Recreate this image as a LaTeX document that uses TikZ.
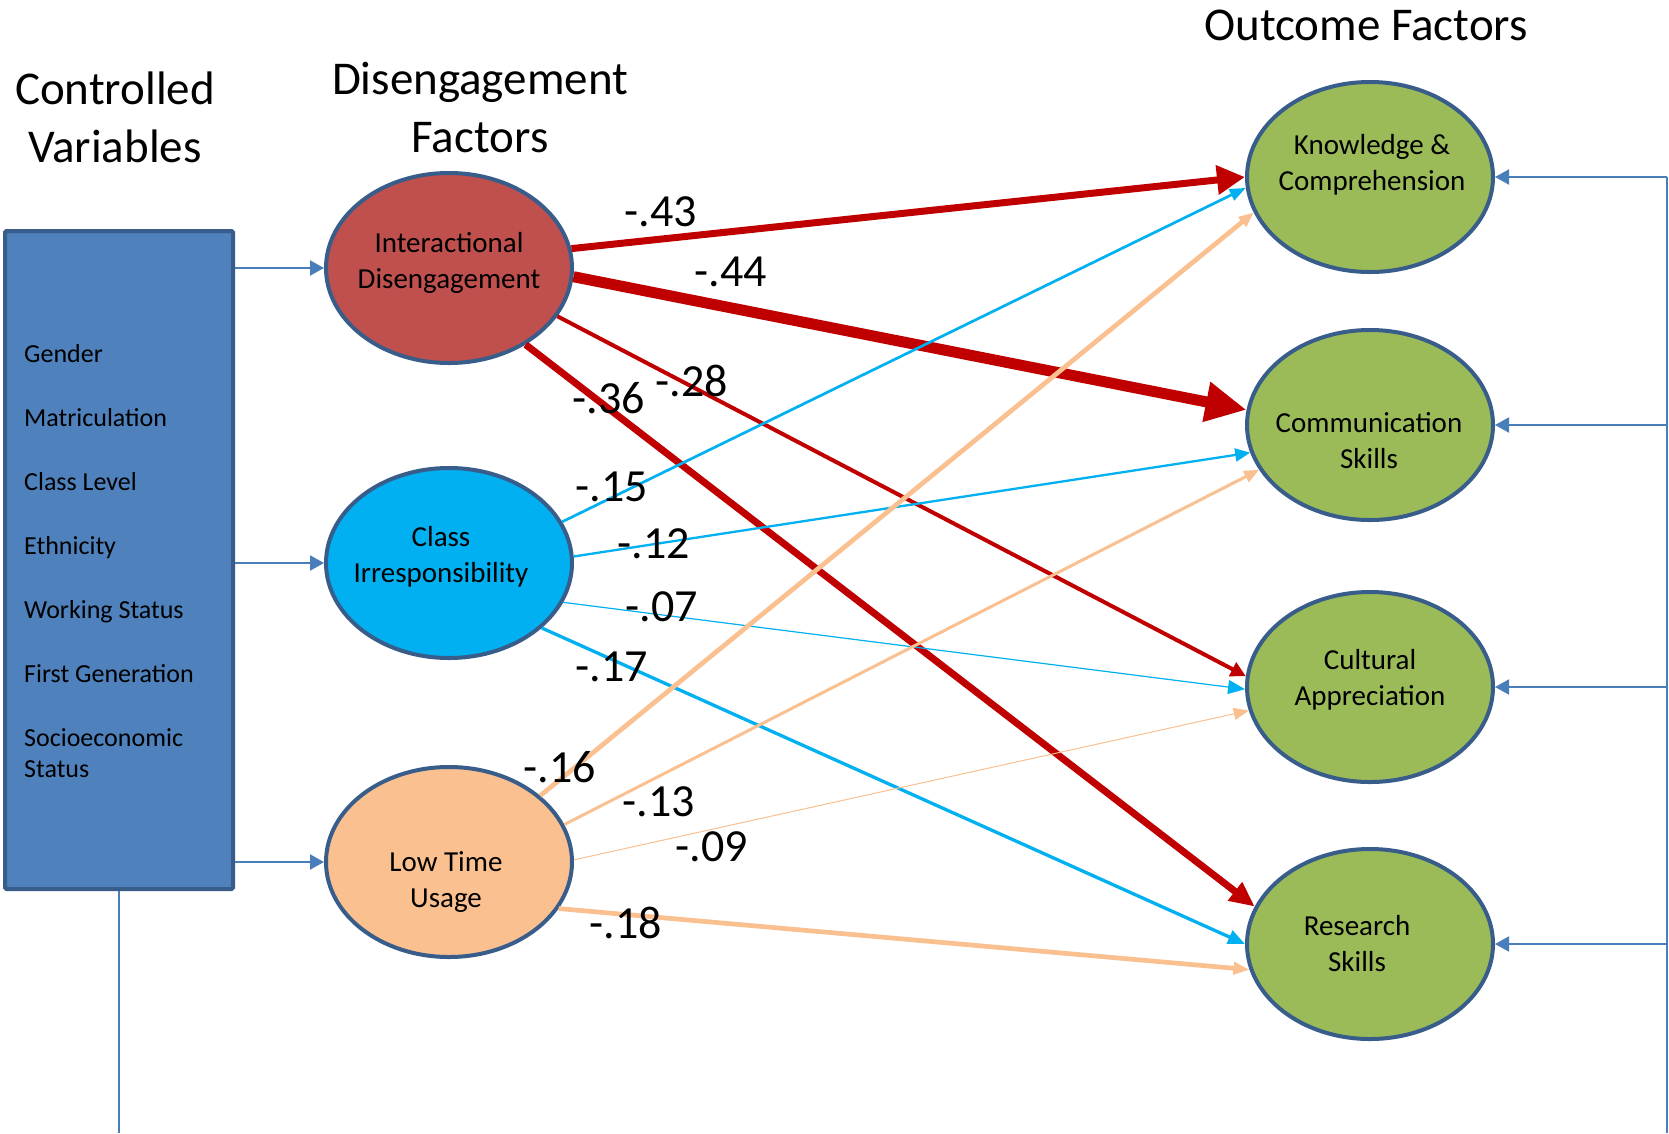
\documentclass[tikz,border=0pt]{standalone}
\usepackage{fontspec}
\setmainfont{Carlito}
\usetikzlibrary{arrows.meta,shapes.geometric}
\definecolor{boxblue}{HTML}{4F81BD}
\definecolor{edgeblue}{HTML}{385D8A}
\definecolor{linkblue}{HTML}{4A7EBB}
\definecolor{idred}{HTML}{C0504D}
\definecolor{cicyan}{HTML}{00B0F0}
\definecolor{ltpeach}{HTML}{FAC090}
\definecolor{outgreen}{HTML}{9BBB59}
\definecolor{pathred}{HTML}{C00000}
\newcommand\fsz[2]{\fontsize{#1}{#2}\selectfont}
\begin{document}
\begin{tikzpicture}[x=1pt,y=-1pt,
  factor/.style={ellipse, draw=edgeblue, line width=4pt, minimum width=246pt, minimum height=190pt, inner sep=0pt},
  inlabel/.style={align=center, font=\fsz{29}{36}, inner sep=0pt},
  heading/.style={align=center, font=\fsz{47}{58}, inner sep=0pt, anchor=base},
  varname/.style={anchor=base west, font=\fsz{26}{31}, inner sep=0pt, align=left},
  coef/.style={font=\fsz{46}{55}, inner sep=0pt},
  link/.style={draw=linkblue, line width=2pt},
  linkarrow/.style={link, -{Triangle[length=14pt,width=15pt]}},
  effect/.style n args={4}{draw=#1, line width=#2, -{Triangle[length=#3,width=#4]}},
]
\fill[white] (0,0) rectangle (1669,1133);
\useasboundingbox (0,0) rectangle (1669,1133);

% column headings (base anchor sits on the last line)
\node[heading] (cvt) at (115,162) {Controlled\\Variables};
\node[heading] (dft) at (480,152) {Disengagement\\Factors};
\node[heading] (oft) at (1366,40) {Outcome Factors};

% controlled variables box
\node[draw=edgeblue, fill=boxblue, line width=4pt, minimum width=228pt, minimum height=658pt,
      inner sep=0pt, rounded corners=1.5pt] (box) at (119,560) {};
\node[varname] (v1) at (24,362) {Gender};
\node[varname] (v2) at (24,426) {Matriculation};
\node[varname] (v3) at (24,490) {Class Level};
\node[varname] (v4) at (24,554) {Ethnicity};
\node[varname] (v5) at (24,618) {Working Status};
\node[varname] (v6) at (24,682) {First Generation};
\node[varname] (v7) at (24,777) {Socioeconomic\\Status};

% disengagement factors
\node[factor, fill=idred] (ID) at (449,268) {};
\node[inlabel] (IDt) at (449,263) {Interactional\\Disengagement};
\node[factor, fill=cicyan] (CI) at (449,563) {};
\node[inlabel] (CIt) at (441,557) {Class\\Irresponsibility};
\node[factor, fill=ltpeach] (LT) at (449,862) {};
\node[inlabel] (LTt) at (446,882) {Low Time\\Usage};

% outcome factors
\node[factor, fill=outgreen] (KC) at (1370,177) {};
\node[inlabel] (KCt) at (1372,165) {Knowledge \&\\Comprehension};
\node[factor, fill=outgreen] (CS) at (1370,425) {};
\node[inlabel] (CSt) at (1369,441) {Communication\\Skills};
\node[factor, fill=outgreen] (CA) at (1370,687) {};
\node[inlabel] (CAt) at (1370,680) {Cultural\\Appreciation};
\node[factor, fill=outgreen] (RS) at (1370,944) {};
\node[inlabel] (RSt) at (1357,944) {Research\\Skills};

% links from the controlled variables
\coordinate (floor) at (0,1133);
\draw[linkarrow] (box.east |- ID.west) -- (ID.west);
\draw[linkarrow] (box.east |- CI.west) -- (CI.west);
\draw[linkarrow] (box.east |- LT.west) -- (LT.west);
\draw[link] (box.south) -- (box.south |- floor);

\coordinate (railtop) at (1667,177);
\coordinate (railfoot) at (1667,1133);
\draw[link] (railtop) -- (railfoot);
\draw[linkarrow] (KC -| railtop) -- (KC.east);
\draw[linkarrow] (CS -| railtop) -- (CS.east);
\draw[linkarrow] (CA -| railtop) -- (CA.east);
\draw[linkarrow] (RS -| railtop) -- (RS.east);

% paths from interactional disengagement
\draw[effect={pathred}{7pt}{28pt}{28pt}] (ID.9) -- (KC.180);
\draw[effect={pathred}{11pt}{41pt}{38pt}] (ID.-4) -- (CS.173);
\draw[effect={pathred}{4pt}{15pt}{15pt}] (ID.-24) -- (CA.175);
\draw[effect={pathred}{7pt}{25pt}{22pt}] (ID.-45) -- (RS.162.5);

% paths from class irresponsibility
\draw[effect={cicyan}{2.7pt}{16pt}{12pt}] (CI.20) -- (KC.185);
\draw[effect={cicyan}{2.3pt}{15pt}{13pt}] (CI.3) -- (CS.193.6);
\draw[effect={cicyan}{1.2pt}{17pt}{14pt}] (CI.-19) -- (CA.181);
\draw[effect={cicyan}{3.3pt}{17pt}{14pt}] (CI.-35) -- (RS.180.5);

% paths from low time usage
\draw[effect={ltpeach}{4.7pt}{15pt}{12pt}] (LT.36) -- (KC.197);
\draw[effect={ltpeach}{3pt}{15pt}{12pt}] (LT.18) -- (CS.202);
\draw[effect={ltpeach}{1pt}{15pt}{12pt}] (LT.1.4) -- (CA.191.6);
\draw[effect={ltpeach}{4.7pt}{16pt}{12pt}] (LT.-23) -- (RS.192.5);

% path coefficients
\node[coef] (c43) at (661,212) {-.43};
\node[coef] (c44) at (731,272) {-.44};
\node[coef] (c36) at (609,398) {-.36};
\node[coef] (c28) at (692,381) {-.28};
\node[coef] (c15) at (612,487) {-.15};
\node[coef] (c12) at (654,544) {-.12};
\node[coef] (c07) at (662,607) {-.07};
\node[coef] (c17) at (612,667) {-.17};
\node[coef] (c16) at (560,767) {-.16};
\node[coef] (c13) at (659,802) {-.13};
\node[coef] (c09) at (712,847) {-.09};
\node[coef] (c18) at (626,923) {-.18};
\end{tikzpicture}
\end{document}
